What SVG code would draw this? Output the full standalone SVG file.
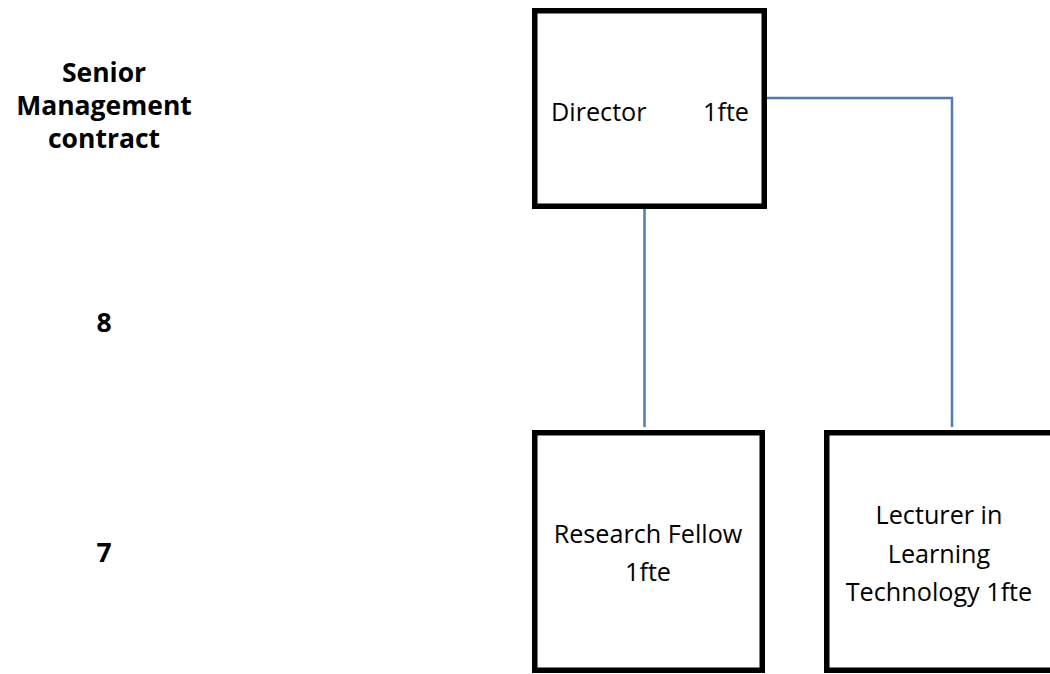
<svg xmlns="http://www.w3.org/2000/svg" width="1050" height="674" viewBox="0 0 1050 674">
<style>
.box{fill:#fff;stroke:#000;stroke-width:5.5}
.t{font-family:"Open Sans","Liberation Sans",sans-serif;font-size:25.2px;fill:#000}
.c{text-anchor:middle}
.b{font-family:"Open Sans","Liberation Sans",sans-serif;font-size:26.5px;font-weight:bold;fill:#000;text-anchor:middle}
.conn{fill:none;stroke:#4a7ebb;stroke-width:2.5}
</style>
<rect width="1050" height="674" fill="#fff"/>
<g id="connectors">
<polyline class="conn" points="767,98 952,98 952,427"/>
<line class="conn" x1="644.5" y1="208" x2="644.5" y2="427"/>
</g>
<g id="labels">
<text class="b" x="104" y="82">Senior</text>
<text class="b" x="104" y="115">Management</text>
<text class="b" x="104" y="148">contract</text>
<text class="b" x="104" y="332">8</text>
<text class="b" x="104" y="562">7</text>
</g>
<g id="director">
<rect class="box" x="534.75" y="10.75" width="229.5" height="195.5"/>
<text class="t" y="121"><tspan x="551">Director</tspan><tspan x="749" text-anchor="end">1fte</tspan></text>
</g>
<g id="research-fellow">
<rect class="box" x="534.75" y="432.75" width="227.5" height="237.5"/>
<text class="t c" x="648" y="543">Research Fellow</text>
<text class="t c" x="648" y="581">1fte</text>
</g>
<g id="lecturer">
<rect class="box" x="826.75" y="432.75" width="240" height="237.5"/>
<text class="t c" x="939" y="524">Lecturer in</text>
<text class="t c" x="939" y="563">Learning</text>
<text class="t c" x="939" y="601">Technology 1fte</text>
</g>
</svg>
